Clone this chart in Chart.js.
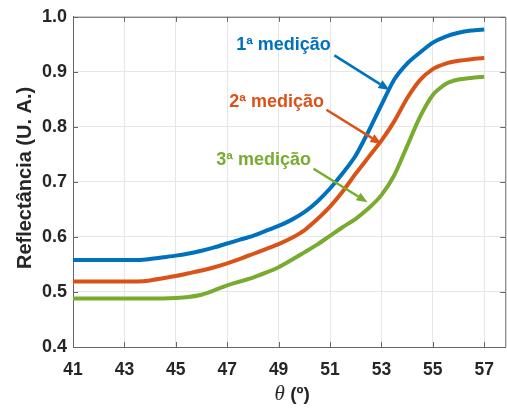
<!DOCTYPE html>
<html>
<head>
<meta charset="utf-8">
<script src="https://cdn.jsdelivr.net/npm/chart.js@4/dist/chart.umd.min.js"></script>
<style>
  html, body { margin: 0; padding: 0; background: #fff; }
  canvas { display: block; }
</style>
</head>
<body>
<canvas id="c" width="507" height="412"></canvas>
<script>
// Incidence angle (degrees)
const theta = [41, 41.5, 42, 42.5, 43, 43.5, 44, 44.5, 45, 45.5, 46, 46.5, 47, 47.5, 48, 48.5,
               49, 49.5, 50, 50.5, 51, 51.5, 52, 52.5, 53, 53.5, 54, 54.5, 55, 55.5, 56, 56.5, 57];

// Reflectance, three measurement runs
const med1 = [0.558, 0.558, 0.558, 0.558, 0.558, 0.558, 0.560, 0.563, 0.566, 0.570, 0.575, 0.581,
              0.588, 0.595, 0.602, 0.611, 0.620, 0.631, 0.645, 0.664, 0.688, 0.716, 0.748, 0.792,
              0.840, 0.886, 0.915, 0.935, 0.953, 0.964, 0.971, 0.975, 0.977];
const med2 = [0.519, 0.519, 0.519, 0.519, 0.519, 0.519, 0.521, 0.525, 0.529, 0.534, 0.539, 0.545,
              0.552, 0.560, 0.569, 0.578, 0.587, 0.598, 0.612, 0.632, 0.655, 0.683, 0.715, 0.745,
              0.775, 0.810, 0.852, 0.885, 0.905, 0.915, 0.920, 0.923, 0.925];
const med3 = [0.488, 0.488, 0.488, 0.488, 0.488, 0.488, 0.488, 0.488, 0.489, 0.491, 0.495, 0.503,
              0.512, 0.519, 0.526, 0.535, 0.545, 0.558, 0.572, 0.586, 0.602, 0.618, 0.633, 0.652,
              0.676, 0.712, 0.765, 0.818, 0.858, 0.878, 0.886, 0.889, 0.891];

const xTicks = [41, 43, 45, 47, 49, 51, 53, 55, 57];
const yTicks = [0.4, 0.5, 0.6, 0.7, 0.8, 0.9, 1.0];

const seriesNames = ['1ª medição', '2ª medição', '3ª medição'];
const seriesColors = ['#0072BD', '#D95319', '#77AC30'];

// Callout labels (centre x, baseline y) and their arrows, in data units
const labelAt   = [[49.19, 0.939], [48.92, 0.836], [48.42, 0.731]];
const arrowFrom = [[51.17, 0.930], [50.86, 0.831], [50.36, 0.724]];
const arrowTo   = [[53.31, 0.867], [53.00, 0.769], [52.46, 0.663]];

const xTitleSymbol = 'θ';
const xTitleUnit = ' (º)';
const yTitle = 'Reflectância (U. A.)';

const SANS = '"Liberation Sans", Arial, Helvetica, sans-serif';
const SERIF = '"Liberation Serif", "Times New Roman", serif';
const INK = '#262626';

const toPoints = vals => vals.map((v, i) => ({ x: theta[i], y: v }));
const series = [med1, med2, med3];

const decorations = {
  id: 'decorations',
  afterDatasetsDraw(chart) {
    const { ctx, chartArea: a, scales: { x, y } } = chart;
    ctx.save();

    // box: top and right edges
    ctx.strokeStyle = '#666';
    ctx.lineWidth = 1;
    ctx.beginPath();
    ctx.moveTo(a.left, a.top + 0.5);
    ctx.lineTo(a.right + 0.5, a.top + 0.5);
    ctx.lineTo(a.right + 0.5, a.bottom);
    ctx.stroke();

    // inward tick marks on all four sides
    const tl = 5;
    ctx.beginPath();
    xTicks.forEach(v => {
      const px = Math.round(x.getPixelForValue(v)) + 0.5;
      ctx.moveTo(px, a.bottom); ctx.lineTo(px, a.bottom - tl);
      ctx.moveTo(px, a.top); ctx.lineTo(px, a.top + tl);
    });
    yTicks.forEach(v => {
      const py = Math.round(y.getPixelForValue(v)) + 0.5;
      ctx.moveTo(a.left, py); ctx.lineTo(a.left + tl, py);
      ctx.moveTo(a.right, py); ctx.lineTo(a.right - tl, py);
    });
    ctx.stroke();

    // callout arrows
    series.forEach((_, i) => {
      const x0 = x.getPixelForValue(arrowFrom[i][0]);
      const y0 = y.getPixelForValue(arrowFrom[i][1]);
      const x1 = x.getPixelForValue(arrowTo[i][0]);
      const y1 = y.getPixelForValue(arrowTo[i][1]);
      const ang = Math.atan2(y1 - y0, x1 - x0);
      const head = 11, half = 4.5;
      const bx = x1 - head * Math.cos(ang), by = y1 - head * Math.sin(ang);
      ctx.strokeStyle = seriesColors[i];
      ctx.fillStyle = seriesColors[i];
      ctx.lineWidth = 2.5;
      ctx.beginPath();
      ctx.moveTo(x0, y0);
      ctx.lineTo(bx, by);
      ctx.stroke();
      ctx.beginPath();
      ctx.moveTo(x1, y1);
      ctx.lineTo(bx + half * Math.sin(ang), by - half * Math.cos(ang));
      ctx.lineTo(bx - half * Math.sin(ang), by + half * Math.cos(ang));
      ctx.closePath();
      ctx.fill();

      // callout text
      ctx.font = 'bold 18px ' + SANS;
      ctx.textAlign = 'center';
      ctx.textBaseline = 'alphabetic';
      ctx.fillText(seriesNames[i], x.getPixelForValue(labelAt[i][0]), y.getPixelForValue(labelAt[i][1]));
    });

    // x axis title: italic theta followed by the unit
    ctx.fillStyle = INK;
    ctx.textBaseline = 'alphabetic';
    ctx.textAlign = 'left';
    const symFont = 'italic 21px ' + SERIF;
    const unitFont = 'bold 19px ' + SANS;
    ctx.font = symFont;
    const wSym = ctx.measureText(xTitleSymbol).width;
    ctx.font = unitFont;
    const wUnit = ctx.measureText(xTitleUnit).width;
    const cx = (a.left + a.right) / 2 + 3;
    let tx = cx - (wSym + wUnit) / 2;
    const ty = a.bottom + 53;
    ctx.font = symFont;
    ctx.fillText(xTitleSymbol, tx, ty);
    ctx.font = unitFont;
    ctx.fillText(xTitleUnit, tx + wSym, ty);

    // y axis title
    ctx.save();
    ctx.translate(25, (a.top + a.bottom) / 2 - 4);
    ctx.rotate(-Math.PI / 2);
    ctx.font = 'bold 20px ' + SANS;
    ctx.textAlign = 'center';
    ctx.textBaseline = 'middle';
    ctx.fillText(yTitle, 0, 0);
    ctx.restore();

    ctx.restore();
  }
};

new Chart(document.getElementById('c'), {
  type: 'line',
  data: {
    datasets: series.map((vals, i) => ({
      label: seriesNames[i],
      data: toPoints(vals),
      borderColor: seriesColors[i],
      backgroundColor: seriesColors[i],
      borderWidth: 4,
      pointRadius: 0,
      tension: 0.2,
      fill: false
    }))
  },
  options: {
    responsive: false,
    devicePixelRatio: 1,
    animation: false,
    layout: { padding: { left: 0, right: 1, top: 14, bottom: 0 } },
    plugins: { legend: { display: false }, tooltip: { enabled: false } },
    scales: {
      x: {
        type: 'linear',
        min: 41,
        max: 57.82,
        afterBuildTicks: s => { s.ticks = xTicks.map(v => ({ value: v })); },
        afterFit: s => { s.height = 65; },
        grid: { color: '#e6e6e6', drawTicks: false },
        border: { color: '#666', width: 1 },
        ticks: {
          padding: 13,
          maxRotation: 0,
          color: INK,
          font: { family: SANS, size: 17.5, weight: 'bold' },
          callback: v => String(v)
        }
      },
      y: {
        type: 'linear',
        min: 0.4,
        max: 1.0,
        afterBuildTicks: s => { s.ticks = yTicks.map(v => ({ value: v })); },
        afterFit: s => { s.width = 73; },
        grid: { color: '#e6e6e6', drawTicks: false },
        border: { color: '#666', width: 1 },
        ticks: {
          padding: 6,
          color: INK,
          font: { family: SANS, size: 18, weight: 'bold' },
          callback: v => v.toFixed(1)
        }
      }
    }
  },
  plugins: [decorations]
});
</script>
</body>
</html>
